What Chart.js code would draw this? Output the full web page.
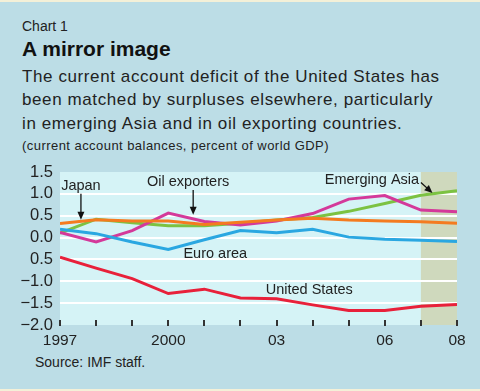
<!DOCTYPE html>
<html><head><meta charset="utf-8">
<script src="https://cdn.jsdelivr.net/npm/chart.js@4/dist/chart.umd.min.js"></script>
<style>
html,body{margin:0;padding:0;}
body{width:480px;height:391px;background:#bcdde6;position:relative;overflow:hidden;font-family:"Liberation Sans",Arial,sans-serif;color:#222;}
.band{position:absolute;left:0;width:480px;height:2px;background:#f4f0d8;}
.t{position:absolute;left:22px;white-space:nowrap;}
#cv{position:absolute;left:0;top:0;}
</style></head>
<body>
<div class="band" style="top:0"></div>
<div class="band" style="top:389px"></div>
<div class="t" style="top:17px;font-size:14px;line-height:18px;">Chart 1</div>
<div class="t" style="top:36px;font-size:21px;line-height:26px;font-weight:bold;color:#111;">A mirror image</div>
<div class="t" style="top:65px;font-size:17px;line-height:23.3px;letter-spacing:0.6px;">The current account deficit of the United States has<br>been matched by surpluses elsewhere, particularly<br>in emerging Asia and in oil exporting countries.</div>
<div class="t" style="top:138px;font-size:13px;line-height:16px;letter-spacing:0.45px;">(current account balances, percent of world GDP)</div>
<div class="t" style="left:35px;top:354px;font-size:14px;line-height:17px;">Source: IMF staff.</div>
<canvas id="cv" width="480" height="391"></canvas>
<script>
const years = [1997,1998,1999,2000,2001,2002,2003,2004,2005,2006,2007,2008];
const yearLabels = {1997:'1997',2000:'2000',2003:'03',2006:'06',2008:'08'};
const yTickLabels = {'1.5':'1.5','1':'1.0','0.5':'0.5','0':'0.0','-0.5':'0.5','-1':'\u22121.0','-1.5':'\u22121.5','-2':'\u22122.0'};
const unitedStates = [-0.45,-0.70,-0.94,-1.28,-1.18,-1.38,-1.40,-1.54,-1.67,-1.67,-1.57,-1.53];
const emergingAsia = [0.10,0.42,0.34,0.27,0.27,0.33,0.40,0.46,0.60,0.78,0.97,1.07];
const oilExporters = [0.12,-0.10,0.16,0.56,0.37,0.29,0.38,0.55,0.88,0.96,0.63,0.59];
const japan = [0.32,0.41,0.38,0.38,0.30,0.35,0.40,0.44,0.40,0.38,0.36,0.33];
const euroArea = [0.19,0.09,-0.10,-0.27,-0.05,0.16,0.11,0.19,0.01,-0.04,-0.06,-0.09];
const projStart = 2007;

const pts = arr => arr.map((v,i)=>({x:years[i],y:v}));
const annotations = [
  {text:'Japan', x:1997.58, y:1.18, align:'center'},
  {text:'Oil exporters', x:2000.55, y:1.27, align:'center'},
  {text:'Euro area', x:2000.42, y:-0.37, align:'left'},
  {text:'Emerging Asia', x:2006.95, y:1.32, align:'right'},
  {text:'United States', x:2002.7, y:-1.2, align:'left'}
];
const arrows = [
  {x1:1997.58, y1:1.0, x2:1997.58, y2:0.41},
  {x1:2000.69, y1:1.09, x2:2000.69, y2:0.52},
  {x1:2007.0, y1:1.26, x2:2007.32, y2:1.02}
];

const bgPlugin = {
  id:'bg',
  beforeDraw(chart){
    const {ctx, chartArea:a, scales:{x}} = chart;
    ctx.save();
    ctx.fillStyle = '#d5f3f6';
    ctx.fillRect(a.left, a.top, a.right-a.left, a.bottom-a.top);
    const px = x.getPixelForValue(projStart);
    ctx.fillStyle = '#cfd9bd';
    ctx.fillRect(px, a.top, a.right-px, a.bottom-a.top);
    ctx.restore();
  },
  afterDatasetsDraw(chart){
    const {ctx, chartArea:a, scales:{x,y}} = chart;
    ctx.save();
    ctx.strokeStyle = '#333'; ctx.lineWidth = 2;
    years.forEach(yr=>{
      const px = Math.round(x.getPixelForValue(yr));
      ctx.beginPath(); ctx.moveTo(px, a.bottom-5); ctx.lineTo(px, a.bottom+1); ctx.stroke();
    });
    ctx.fillStyle = '#222';
    ctx.font = '14.5px "Liberation Sans", Arial, sans-serif';
    ctx.textBaseline = 'middle';
    annotations.forEach(an=>{
      ctx.textAlign = an.align;
      ctx.fillText(an.text, x.getPixelForValue(an.x), y.getPixelForValue(an.y));
    });
    ctx.strokeStyle = '#111'; ctx.fillStyle = '#111'; ctx.lineWidth = 1.3;
    arrows.forEach(ar=>{
      const x1 = x.getPixelForValue(ar.x1), y1 = y.getPixelForValue(ar.y1);
      const x2 = x.getPixelForValue(ar.x2), y2 = y.getPixelForValue(ar.y2);
      const ang = Math.atan2(y2-y1, x2-x1);
      ctx.beginPath(); ctx.moveTo(x1,y1); ctx.lineTo(x2-5*Math.cos(ang), y2-5*Math.sin(ang)); ctx.stroke();
      ctx.beginPath();
      ctx.moveTo(x2,y2);
      ctx.lineTo(x2-8*Math.cos(ang)+3.5*Math.sin(ang), y2-8*Math.sin(ang)-3.5*Math.cos(ang));
      ctx.lineTo(x2-8*Math.cos(ang)-3.5*Math.sin(ang), y2-8*Math.sin(ang)+3.5*Math.cos(ang));
      ctx.closePath(); ctx.fill();
    });
    ctx.restore();
  }
};

const mk = (label, data, color) => ({label, data:pts(data), borderColor:color, backgroundColor:color, borderWidth:3, pointRadius:0, tension:0, fill:false});

new Chart(document.getElementById('cv'), {
  type:'line',
  data:{datasets:[
    mk('Japan', japan, '#f47b20'),
    mk('Euro area', euroArea, '#2aa7e1'),
    mk('Oil exporters', oilExporters, '#d4399a'),
    mk('Emerging Asia', emergingAsia, '#7cc242'),
    mk('United States', unitedStates, '#e8203a')
  ]},
  options:{
    responsive:false, animation:false,
    layout:{padding:{left:0, top:172, right:23, bottom:0}},
    plugins:{legend:{display:false}, tooltip:{enabled:false}},
    scales:{
      x:{type:'linear', min:1997, max:2008, border:{display:false},
        grid:{display:false, drawTicks:false},
        afterFit(s){ s.height = 66; },
        afterBuildTicks(s){ s.ticks = years.map(v=>({value:v})); },
        ticks:{autoSkip:false, maxRotation:0, padding:6, color:'#222',
          font:{family:'"Liberation Sans", Arial, sans-serif', size:15.5},
          callback:v=> yearLabels[v] || ''}
      },
      y:{type:'linear', min:-2, max:1.5, border:{display:false},
        afterFit(s){ s.width = 60; },
        grid:{color:c=> (c.tick && (c.tick.value===1.5 || c.tick.value===-2)) ? 'rgba(0,0,0,0)' : '#ffffff', lineWidth:2, drawTicks:false},
        ticks:{stepSize:0.5, autoSkip:false, padding:7, color:'#222',
          font:{family:'"Liberation Sans", Arial, sans-serif', size:16.5},
          callback:v=> yTickLabels[String(v)] ?? ''}
      }
    }
  },
  plugins:[bgPlugin]
});
</script>
</body></html>
